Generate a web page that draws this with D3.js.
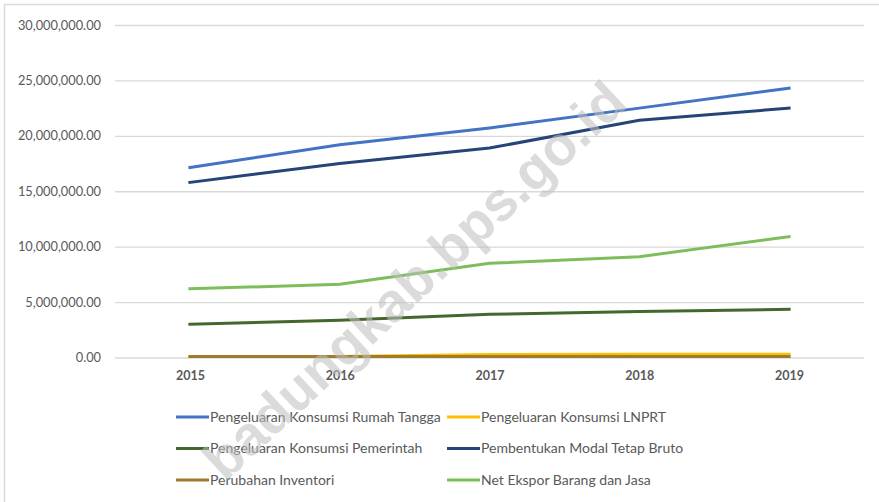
<!DOCTYPE html>
<html>
<head>
<meta charset="utf-8">
<script src="https://cdn.jsdelivr.net/npm/d3@7"></script>
<style>
  body { margin: 0; background: #fff; }
  text { font-family: Lato, "Open Sans", sans-serif; }
</style>
</head>
<body>
<div id="chart"></div>
<script>
var years = ["2015", "2016", "2017", "2018", "2019"];
var yTicks = [0, 5000000, 10000000, 15000000, 20000000, 25000000, 30000000];

var seriesNames = [
	"Pengeluaran Konsumsi Rumah Tangga",
	"Pengeluaran Konsumsi LNPRT",
	"Pengeluaran Konsumsi Pemerintah",
	"Pembentukan Modal Tetap Bruto",
	"Perubahan Inventori",
	"Net Ekspor Barang dan Jasa"
];
var seriesColors = ["#4472C4", "#FFC000", "#43682B", "#264478", "#9E7C2B", "#7DBE5A"];

var rumahTangga = [17150000, 19200000, 20700000, 22500000, 24300000];
var lnprt       = [100000, 100000, 270000, 300000, 300000];
var pemerintah  = [3000000, 3350000, 3900000, 4150000, 4350000];
var modalTetap  = [15800000, 17500000, 18900000, 21400000, 22500000];
var inventori   = [100000, 100000, 100000, 100000, 100000];
var netEkspor   = [6200000, 6600000, 8500000, 9100000, 10900000];

var seriesValues = [rumahTangga, lnprt, pemerintah, modalTetap, inventori, netEkspor];
// draw order: low ones first so the brown sits over the yellow like in the picture
var drawOrder = [1, 4, 2, 5, 3, 0];

var w = 879, h = 502;

var svg = d3.select("#chart").append("svg")
	.attr("width", w)
	.attr("height", h)

// chart area border (left and top visible)
svg.append("rect")
	.attr("x", 4.5)
	.attr("y", 4.5)
	.attr("width", w + 10)
	.attr("height", h + 10)
	.style("fill", "none")
	.style("stroke", "#d9d9d9")
	.style("stroke-width", 1.5)

var x = d3.scalePoint()
	.domain(years)
	.range([115, 864])
	.padding(0.5)

var y = d3.scaleLinear()
	.domain([0, 30000000])
	.range([357.5, 25])

var fmt = d3.format(",.2f");

var yAxis = d3.axisLeft(y)
	.tickValues(yTicks)
	.tickSize(-(864 - 115))
	.tickPadding(14)
	.tickFormat(fmt)

var gy = svg.append("g")
	.attr("transform", "translate(115,0)")
	.call(yAxis)
gy.select(".domain").remove();
gy.selectAll(".tick line").style("stroke", "#d9d9d9").style("stroke-width", 1.3);
gy.selectAll(".tick text")
	.style("font-size", "12.8px")
	.style("fill", "#595959")

var xAxis = d3.axisBottom(x).tickSize(0).tickPadding(14);
var gx = svg.append("g")
	.attr("transform", "translate(0,357.5)")
	.call(xAxis)
gx.select(".domain").remove();
gx.selectAll(".tick text")
	.style("font-size", "12.5px")
	.style("font-weight", 700)
	.style("fill", "#595959")

var line = d3.line()
	.x(function(d, i) { return x(years[i]); })
	.y(function(d) { return y(d); })

drawOrder.forEach(function(k) {
	svg.append("path")
		.datum(seriesValues[k])
		.attr("d", line)
		.style("fill", "none")
		.style("stroke", seriesColors[k])
		.style("stroke-width", 3)
		.style("stroke-linecap", "square")
})

// legend
var legend = svg.append("g");
seriesNames.forEach(function(name, i) {
	var col = i % 2, row = Math.floor(i / 2);
	var lx = col == 0 ? 176 : 447;
	var ly = 417 + row * 31.5;
	legend.append("line")
		.attr("x1", lx)
		.attr("x2", lx + 33)
		.attr("y1", ly)
		.attr("y2", ly)
		.style("stroke", seriesColors[i])
		.style("stroke-width", 3)
	legend.append("text")
		.attr("x", lx + 34)
		.attr("y", ly)
		.attr("dy", "0.35em")
		.text(name)
		.style("font-size", "14px")
		.style("fill", "#595959")
})

// watermark
svg.append("text")
	.attr("transform", "translate(414,280) rotate(-43)")
	.attr("text-anchor", "middle")
	.attr("dy", "0.35em")
	.text("badungkab.bps.go.id")
	.style("font-family", "'Liberation Sans', Arial, sans-serif")
	.style("font-size", "55px")
	.style("font-weight", 700)
	.style("fill", "#bfbfbf")
	.style("opacity", 0.55)
</script>
</body>
</html>
